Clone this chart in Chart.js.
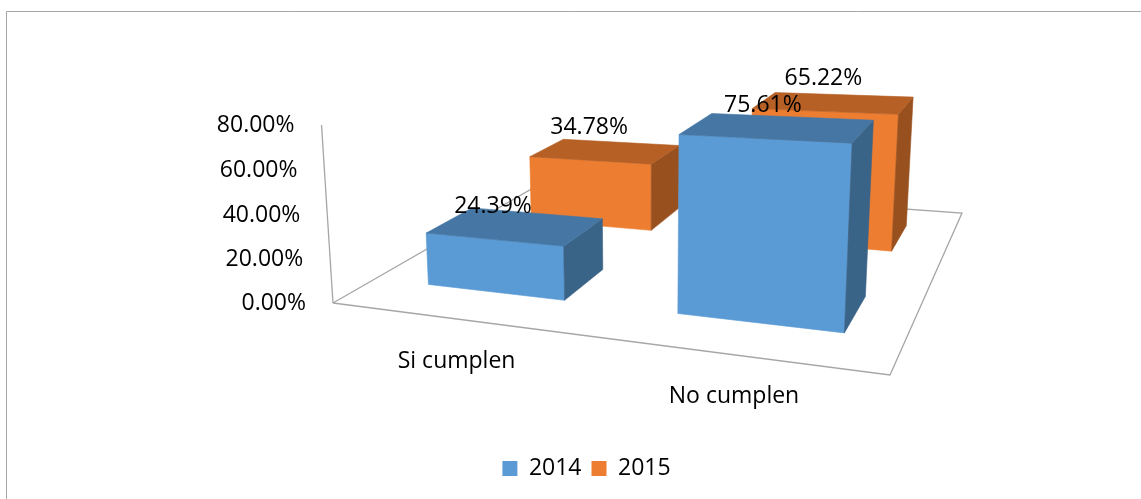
<!DOCTYPE html>
<html lang="es">
<head>
<meta charset="utf-8">
<title>Cumplimiento 2014 - 2015</title>
<script src="https://cdn.jsdelivr.net/npm/chart.js@4.4.1/dist/chart.umd.min.js"></script>
<style>
  html, body { margin: 0; padding: 0; background: #fff; overflow: hidden; }
  #contenedor { position: relative; width: 1141px; height: 499px; }
</style>
</head>
<body>
<div id="contenedor"><canvas id="grafico"></canvas></div>
<script>
const categorias = ["Si cumplen", "No cumplen"];
const series = ["2014", "2015"];
const valores2014 = [24.39, 75.61];
const valores2015 = [34.78, 65.22];
const marcasY = [0, 20, 40, 60, 80];

const colores = ["#5B9BD5", "#ED7D31"];
const fuente = '23px "Open Sans"';

// piso en perspectiva: esquinas (u,v) = (0,0) (1,0) (1,1) (0,1)
const piso = [
  { x: 333, y: 303 },
  { x: 890, y: 375 },
  { x: 962, y: 213 },
  { x: 542, y: 183 }
];
const fuga = { x: 646, y: 5150 };   // punto de fuga de las verticales
const altoOrigen = 178;             // alto en px del eje completo en la esquina
const profundidad = 0.4;            // fondo de la barra dentro de su fila
const corrU = 0.011, corrV = 0.01;

function homografia(p0, p1, p2, p3) {
  const dx1 = p1.x - p2.x, dy1 = p1.y - p2.y;
  const dx2 = p3.x - p2.x, dy2 = p3.y - p2.y;
  const sx = p0.x - p1.x + p2.x - p3.x;
  const sy = p0.y - p1.y + p2.y - p3.y;
  const den = dx1 * dy2 - dx2 * dy1;
  const g = (sx * dy2 - dx2 * sy) / den;
  const h = (dx1 * sy - sx * dy1) / den;
  return {
    a: p1.x - p0.x + g * p1.x, b: p3.x - p0.x + h * p3.x, c: p0.x,
    d: p1.y - p0.y + g * p1.y, e: p3.y - p0.y + h * p3.y, f: p0.y,
    g: g, h: h
  };
}

const H = homografia(piso[0], piso[1], piso[2], piso[3]);
const lambda = -altoOrigen / (fuga.y - piso[0].y + altoOrigen);

function proyecta(u, t, v) {
  const w = H.g * u + H.h * v + lambda * t + 1;
  return {
    x: (H.a * u + H.b * v + H.c + lambda * fuga.x * t) / w,
    y: (H.d * u + H.e * v + H.f + lambda * fuga.y * t) / w
  };
}

function sombra(hex, f) {
  const n = parseInt(hex.slice(1), 16);
  const r = Math.round(((n >> 16) & 255) * f);
  const g = Math.round(((n >> 8) & 255) * f);
  const b = Math.round((n & 255) * f);
  return "rgb(" + r + "," + g + "," + b + ")";
}

function cara(ctx, puntos, color) {
  ctx.beginPath();
  puntos.forEach((p, k) => k === 0 ? ctx.moveTo(p.x, p.y) : ctx.lineTo(p.x, p.y));
  ctx.closePath();
  ctx.fillStyle = color;
  ctx.strokeStyle = color;
  ctx.lineWidth = 0.6;
  ctx.fill();
  ctx.stroke();
}

function linea(ctx, puntos) {
  ctx.beginPath();
  puntos.forEach((p, k) => k === 0 ? ctx.moveTo(p.x, p.y) : ctx.lineTo(p.x, p.y));
  ctx.stroke();
}

const barras3d = {
  id: "barras3d",
  beforeDraw(chart) {
    const ctx = chart.ctx;
    ctx.save();
    ctx.strokeStyle = "#a6a6a6";
    ctx.lineWidth = 1;
    linea(ctx, [{ x: 6.5, y: chart.height }, { x: 6.5, y: 11.5 }, { x: chart.width, y: 11.5 }]);
    ctx.restore();
  },
  beforeDatasetsDraw(chart) {
    const ctx = chart.ctx;
    const area = chart.chartArea;
    const escalaX = chart.scales.x;
    const escalaY = chart.scales.y;
    const cero = escalaY.getPixelForValue(0);
    const tope = escalaY.getPixelForValue(marcasY[marcasY.length - 1]);
    const filas = chart.data.datasets.length;

    ctx.save();

    // piso y eje vertical
    ctx.strokeStyle = "#a6a6a6";
    ctx.lineWidth = 1.3;
    linea(ctx, [proyecta(0, 0, 0), proyecta(1, 0, 0), proyecta(1, 0, 1), proyecta(0, 0, 1), proyecta(0, 0, 0)]);
    linea(ctx, [proyecta(0, 0, 0), proyecta(0, 1, 0)]);

    ctx.font = fuente;
    ctx.fillStyle = "#000";
    ctx.textBaseline = "middle";
    ctx.textAlign = "right";
    marcasY.forEach(m => {
      const t = (cero - escalaY.getPixelForValue(m)) / (cero - tope);
      const p = proyecta(0, t, 0);
      ctx.fillText(m.toFixed(2) + "%", p.x - 27, p.y);
    });

    ctx.textAlign = "center";
    categorias.forEach((c, j) => {
      const u = (escalaX.getPixelForValue(j) - area.left) / area.width + corrU;
      const p = proyecta(u, 0, 0);
      ctx.fillText(c, p.x, p.y + 42);
    });

    // barras, de la fila del fondo a la del frente
    const etiquetas = [];
    for (let i = filas - 1; i >= 0; i--) {
      const meta = chart.getDatasetMeta(i);
      const color = chart.data.datasets[i].backgroundColor;
      const centro = (i + 0.5) / filas;
      const v0 = centro - profundidad / filas / 2 + corrV;
      const v1 = centro + profundidad / filas / 2 + corrV;
      meta.data.forEach((barra, j) => {
        const u0 = (barra.x - barra.width / 2 - area.left) / area.width + corrU;
        const u1 = u0 + barra.width / area.width;
        const t = (barra.base - barra.y) / (cero - tope);
        cara(ctx, [proyecta(u0, 0, v0), proyecta(u1, 0, v0), proyecta(u1, t, v0), proyecta(u0, t, v0)], color);
        cara(ctx, [proyecta(u1, 0, v0), proyecta(u1, 0, v1), proyecta(u1, t, v1), proyecta(u1, t, v0)], sombra(color, 0.64));
        cara(ctx, [proyecta(u0, t, v0), proyecta(u1, t, v0), proyecta(u1, t, v1), proyecta(u0, t, v1)], sombra(color, 0.77));
        const p = proyecta((u0 + u1) / 2, t, v0);
        etiquetas.push({ x: p.x, y: p.y - 33, texto: chart.data.datasets[i].data[j].toFixed(2) + "%" });
      });
    }

    ctx.fillStyle = "#000";
    etiquetas.forEach(e => ctx.fillText(e.texto, e.x, e.y));

    ctx.restore();
    return false;
  }
};

const grafico = new Chart(document.getElementById("grafico"), {
  type: "bar",
  data: {
    labels: categorias,
    datasets: [{
      label: series[0],
      data: valores2014,
      backgroundColor: colores[0],
      borderWidth: 0
    }, {
      label: series[1],
      data: valores2015,
      backgroundColor: colores[1],
      borderWidth: 0
    }]
  },
  options: {
    responsive: true,
    maintainAspectRatio: false,
    animation: false,
    events: [],
    grouped: false,
    barPercentage: 0.57,
    categoryPercentage: 1,
    layout: { padding: { left: 32, bottom: 9 } },
    scales: {
      x: { display: false, offset: true },
      y: { display: false, min: 0, max: 80, ticks: { stepSize: 20 } }
    },
    plugins: {
      tooltip: { enabled: false },
      legend: {
        position: "bottom",
        labels: {
          boxWidth: 15,
          boxHeight: 15,
          padding: 10,
          color: "#000",
          font: { family: "Open Sans", size: 23 }
        }
      }
    }
  },
  plugins: [barras3d]
});
</script>
</body>
</html>
